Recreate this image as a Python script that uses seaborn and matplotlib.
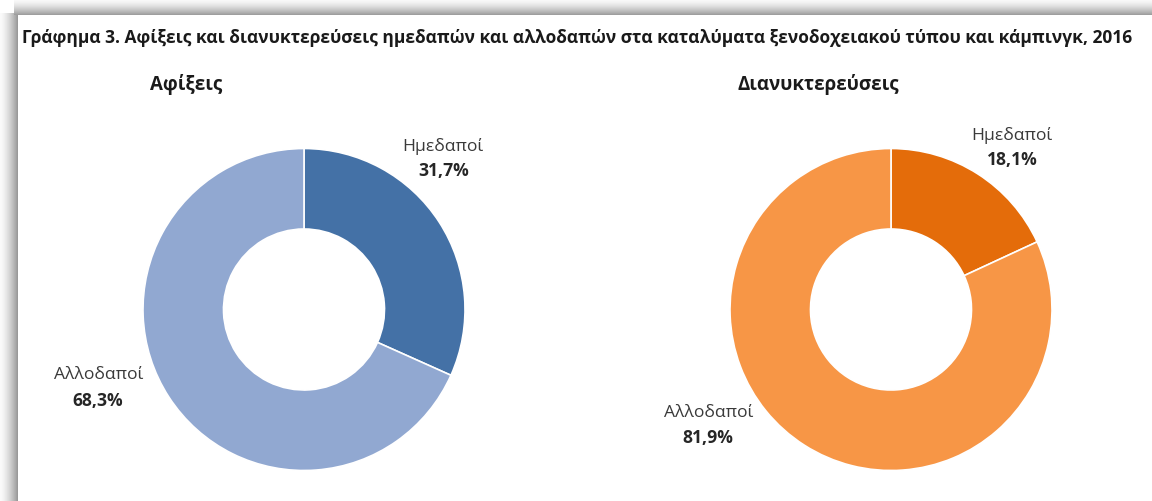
import numpy as np
import matplotlib
matplotlib.use("Agg")
import matplotlib.pyplot as plt
from matplotlib.patches import Rectangle
import seaborn as sns

# Data: shares of domestic vs foreign guests, 2016
categories = ["Ημεδαποί", "Αλλοδαποί"]
arrivals = [31.7, 68.3]
overnights = [18.1, 81.9]

chart_title = ("Γράφημα 3. Αφίξεις και διανυκτερεύσεις ημεδαπών και αλλοδαπών "
               "στα καταλύματα ξενοδοχειακού τύπου και κάμπινγκ, 2016")
panel_titles = ["Αφίξεις", "Διανυκτερεύσεις"]

blue_colors = ["#4471a6", "#91a8d1"]
orange_colors = ["#e46c0a", "#f79646"]

sns.set_theme(style="white")
plt.rcParams["font.family"] = ["Open Sans", "DejaVu Sans"]

W, H = 1152, 502
fig = plt.figure(figsize=(W / 100, H / 100), dpi=100)
fig.patch.set_facecolor("white")

# shaded frame along the left and top edges
for i in range(18):
    g = 0.98 - 0.38 * (i / 17) ** 1.5
    fig.patches.append(Rectangle((i / W, 0), 1 / W, 1 - 14 / H,
                                 transform=fig.transFigure,
                                 facecolor=(g, g, g), edgecolor="none"))
for j in range(16):
    g = 0.98 - 0.36 * (j / 15) ** 1.5
    fig.patches.append(Rectangle((14 / W, 1 - (j + 1) / H), 1 - 14 / W, 1 / H,
                                 transform=fig.transFigure,
                                 facecolor=(g, g, g), edgecolor="none"))

fig.text(22 / W, 1 - 38 / H, chart_title, fontsize=12.5, fontweight="bold",
         color="#1a1a1a", ha="left", va="center")

R = 161.0  # donut outer radius in pixels
half = 200.0


def donut(cx, cy, values, colors, name_pos, pct_pos):
    ax = fig.add_axes([(cx - half) / W, (H - cy - half) / H,
                       2 * half / W, 2 * half / H])
    ax.pie(values, colors=colors, startangle=90, counterclock=False,
           radius=1.0,
           wedgeprops=dict(width=0.5, edgecolor="white", linewidth=1.2))
    lim = half / R
    ax.set_xlim(-lim, lim)
    ax.set_ylim(-lim, lim)
    ax.set_aspect("equal")
    ax.axis("off")
    for cat, v, npos, ppos in zip(categories, values, name_pos, pct_pos):
        ax.text(*npos, cat, ha="center", va="center", fontsize=12.6,
                color="#3a3a3a")
        ax.text(*ppos, f"{v:.1f}".replace(".", ",") + "%",
                ha="center", va="center", fontsize=12.6, fontweight="bold",
                color="#262626")
    return ax


donut(304, 310.5, arrivals, blue_colors,
      [(0.863, 1.016), (-1.273, -0.401)],
      [(0.866, 0.866), (-1.279, -0.562)])
donut(891, 310.5, overnights, orange_colors,
      [(0.752, 1.090), (-1.130, -0.637)],
      [(0.752, 0.935), (-1.136, -0.792)])

fig.text(186 / W, 1 - 85 / H, panel_titles[0], fontsize=13.5,
         fontweight="bold", color="#1a1a1a", ha="center", va="center")
fig.text(818 / W, 1 - 85 / H, panel_titles[1], fontsize=13.5,
         fontweight="bold", color="#1a1a1a", ha="center", va="center")

fig.savefig("out.png", dpi=100, facecolor="white")
